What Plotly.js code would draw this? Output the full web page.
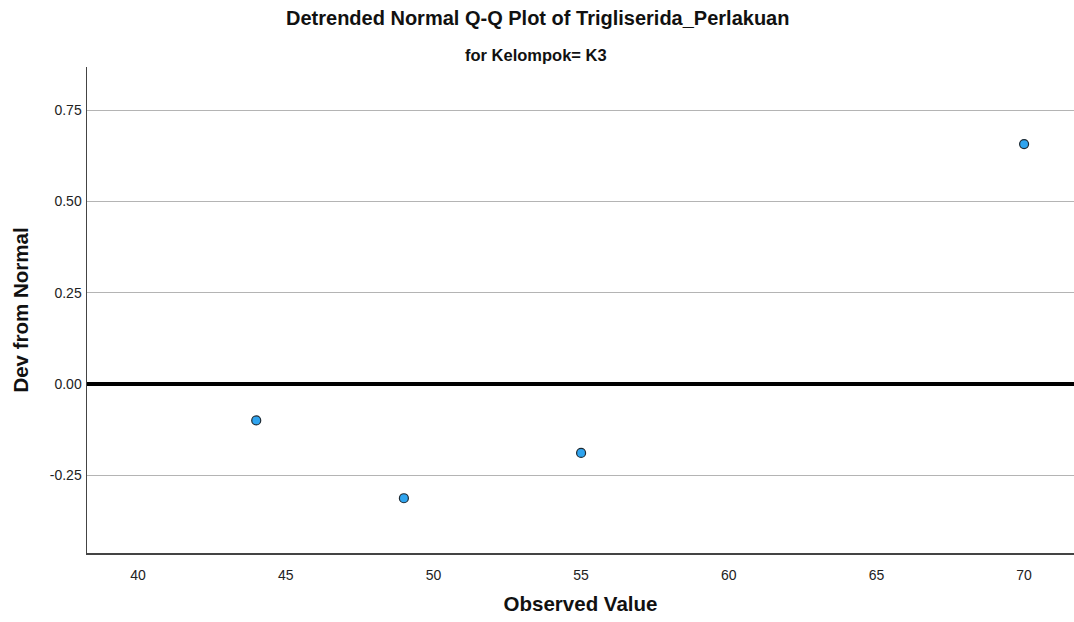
<!DOCTYPE html>
<html>
<head>
<meta charset="utf-8">
<script src="https://cdn.plot.ly/plotly-3.0.1.min.js"></script>
<style>html,body{margin:0;padding:0;background:#fff;}#chart{width:1074px;height:622px;}</style>
</head>
<body>
<div id="chart"></div>
<script>
const observedValues = [44, 49, 55, 70];
const devFromNormal = [-0.100, -0.313, -0.189, 0.657];
const xTickValues = [40, 45, 50, 55, 60, 65, 70];
const yTickValues = [-0.25, 0, 0.25, 0.5, 0.75];
const yTickLabels = ["-0.25", "0.00", "0.25", "0.50", "0.75"];

const trace = {
  x: observedValues,
  y: devFromNormal,
  type: 'scatter',
  mode: 'markers',
  marker: {size: 9, color: '#2fa4ef', line: {color: '#1e2a33', width: 1.2}},
  hoverinfo: 'x+y'
};

const layout = {
  width: 1074, height: 622,
  paper_bgcolor: '#fff', plot_bgcolor: '#fff',
  margin: {l: 87, r: 0, t: 67, b: 69},
  font: {family: 'Liberation Sans, Arial, sans-serif', color: '#222'},
  showlegend: false,
  xaxis: {
    range: [38.27, 71.69],
    tickvals: xTickValues,
    ticktext: xTickValues.map(String),
    showgrid: false, zeroline: false,
    showline: true, linecolor: '#444', linewidth: 1.5,
    ticks: 'outside', ticklen: 9, tickcolor: 'rgba(0,0,0,0)',
    tickfont: {size: 14, color: '#222'},
    title: {text: '<b>Observed Value</b>', font: {size: 20.5, color: '#111'}, standoff: 14}
  },
  yaxis: {
    range: [-0.463, 0.868],
    tickvals: yTickValues,
    ticktext: yTickLabels,
    showgrid: true, gridcolor: '#b4b4b4', gridwidth: 1,
    zeroline: true, zerolinecolor: '#000', zerolinewidth: 3.5,
    showline: true, linecolor: '#444', linewidth: 1.5,
    ticks: 'outside', ticklen: 1, tickcolor: 'rgba(0,0,0,0)',
    tickfont: {size: 14, color: '#222'},
    title: {text: '<b>Dev from Normal</b>', font: {size: 20.5, color: '#111'}, standoff: 15}
  },
  annotations: [
    {text: '<b>Detrended Normal Q-Q Plot of Trigliserida_Perlakuan</b>', xref: 'paper', yref: 'paper',
     x: 0.456, y: 1, yshift: 49, xanchor: 'center', yanchor: 'middle', showarrow: false,
     font: {size: 20, color: '#111'}},
    {text: '<b>for Kelompok= K3</b>', xref: 'paper', yref: 'paper',
     x: 0.455, y: 1, yshift: 12, xanchor: 'center', yanchor: 'middle', showarrow: false,
     font: {size: 16.5, color: '#111'}}
  ]
};

Plotly.newPlot('chart', [trace], layout, {displayModeBar: false, staticPlot: true});
</script>
</body>
</html>
